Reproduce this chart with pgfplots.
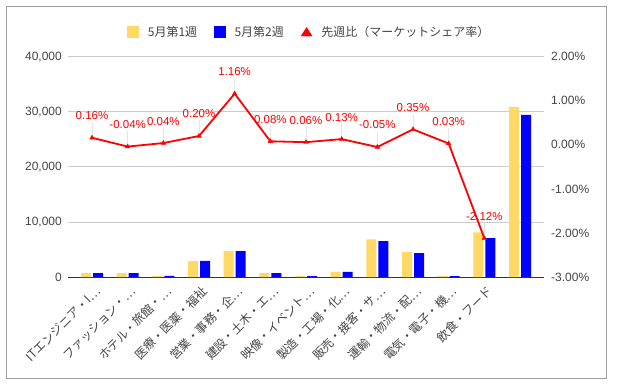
\documentclass[border=0pt]{standalone}
\usepackage{pgfplots}
\pgfplotsset{compat=1.18}
\usepackage{fontspec}
\setmainfont{Liberation Sans}
\newfontfamily\cjk{Noto Sans CJK JP}
\definecolor{barYellow}{HTML}{FFD966}
\definecolor{barBlue}{HTML}{0000FF}
\definecolor{lineRed}{HTML}{FF0000}
\definecolor{gridGray}{HTML}{CCCCCC}
\definecolor{baseGray}{HTML}{333333}
\definecolor{txt}{HTML}{444444}
\definecolor{frameGray}{HTML}{9E9E9E}
\definecolor{stemGray}{HTML}{E6E6E6}
\pgfplotsset{/pgf/number format/assume math mode=true}
\begin{document}
\begin{tikzpicture}[x=1pt,y=1pt]
\path[use as bounding box] (0,0) rectangle (617,385);
\draw[frameGray, line width=1pt] (6.5,6.5) rectangle (606.5,378);
\begin{axis}[
  at={(68pt,108pt)}, anchor=south west,
  scale only axis, width=476pt, height=220.3pt,
  xmin=-0.673, xmax=12.673, ymin=0, ymax=40000,
  ybar, bar width=10pt,
  axis x line*=bottom, axis y line*=left,
  x axis line style={-, draw=baseGray, line width=1pt},
  y axis line style={draw=none},
  major tick length=0pt,
  ytick={0,10000,20000,30000,40000},
  ymajorgrids, grid style={gridGray, line width=0.8pt},
  scaled y ticks=false,
  /pgf/number format/1000 sep={,},
  yticklabel style={font=\fontsize{12}{14}\selectfont, text=txt, inner sep=0pt, anchor=east, xshift=-6pt},
  xtick={0,...,11},
  xticklabels={ITエンジニア・I…,ファッション・…,ホテル・旅館・…,医療・医薬・福祉,営業・事務・企…,建設・土木・エ…,映像・イベント…,製造・工場・化…,販売・接客・サ…,運輸・物流・配…,電気・電子・機…,飲食・フード},
  xticklabel style={font=\cjk\fontsize{12}{14}\selectfont, text=txt, inner sep=0pt, xshift=6pt, yshift=-12pt, rotate=45, anchor=east},
  legend style={at={(0.505,1.112)}, anchor=center, draw=none, fill=none,
    legend columns=3, font=\cjk\fontsize{12}{14}\selectfont, text=txt,
    nodes={inner sep=0pt},
    /tikz/every odd column/.append style={column sep=9pt},
    /tikz/every even column/.append style={column sep=17pt}},
]
\addplot[forget plot, fill=barYellow, draw=none, bar shift=-6pt] coordinates {
 (0,700) (1,700) (2,150) (3,2900) (4,4700) (5,700) (6,150) (7,950) (8,6850) (9,4550) (10,150) (11,8100) (12,30900)};
\addplot[forget plot, fill=barBlue, draw=none, bar shift=6pt] coordinates {
 (0,700) (1,700) (2,200) (3,2950) (4,4700) (5,700) (6,180) (7,950) (8,6500) (9,4350) (10,180) (11,7050) (12,29450)};
\addlegendimage{legend image code/.code={\fill[barYellow] (0pt,-5.5pt) rectangle (11pt,5.5pt);}}
\addlegendentry{5月第1週}
\addlegendimage{legend image code/.code={\fill[barBlue] (0pt,-5.5pt) rectangle (11pt,5.5pt);}}
\addlegendentry{5月第2週}
\addlegendimage{legend image code/.code={\fill[lineRed] (0pt,-4pt) -- (11pt,-4pt) -- (5.5pt,4.5pt) -- cycle;}}
\addlegendentry{先週比（マーケットシェア率）}
\end{axis}
\begin{axis}[
  at={(68pt,108pt)}, anchor=south west,
  scale only axis, width=476pt, height=220.3pt,
  xmin=-0.673, xmax=12.673, ymin=-3, ymax=2,
  axis y line*=right, axis x line=none,
  y axis line style={draw=none},
  major tick length=0pt,
  ytick={-3,-2,-1,0,1,2},
  yticklabel={\pgfmathprintnumber[fixed,fixed zerofill,precision=2]{\tick}\%},
  yticklabel style={font=\fontsize{12}{14}\selectfont, text=txt, inner sep=0pt, anchor=west, xshift=7pt},
  clip=false,
]
\addplot[lineRed, line width=1.8pt, mark=triangle*, mark size=2.6pt,
  mark options={solid, line width=0.4pt},
  nodes near coords={\pgfmathprintnumber[fixed,fixed zerofill,precision=2]{\pgfplotspointmeta}\%},
  every node near coord/.append style={font=\fontsize{11.5}{13}\selectfont, text=lineRed, anchor=center, yshift=22pt},
  error bars/y dir=plus, error bars/y fixed=0.36, error bars/error mark=none,
  error bars/error bar style={stemGray, line width=0.8pt, solid},
] coordinates {
 (0,0.16) (1,-0.04) (2,0.04) (3,0.20) (4,1.16) (5,0.08) (6,0.06) (7,0.13) (8,-0.05) (9,0.35) (10,0.03) (11,-2.12)};
\end{axis}
\end{tikzpicture}
\end{document}
